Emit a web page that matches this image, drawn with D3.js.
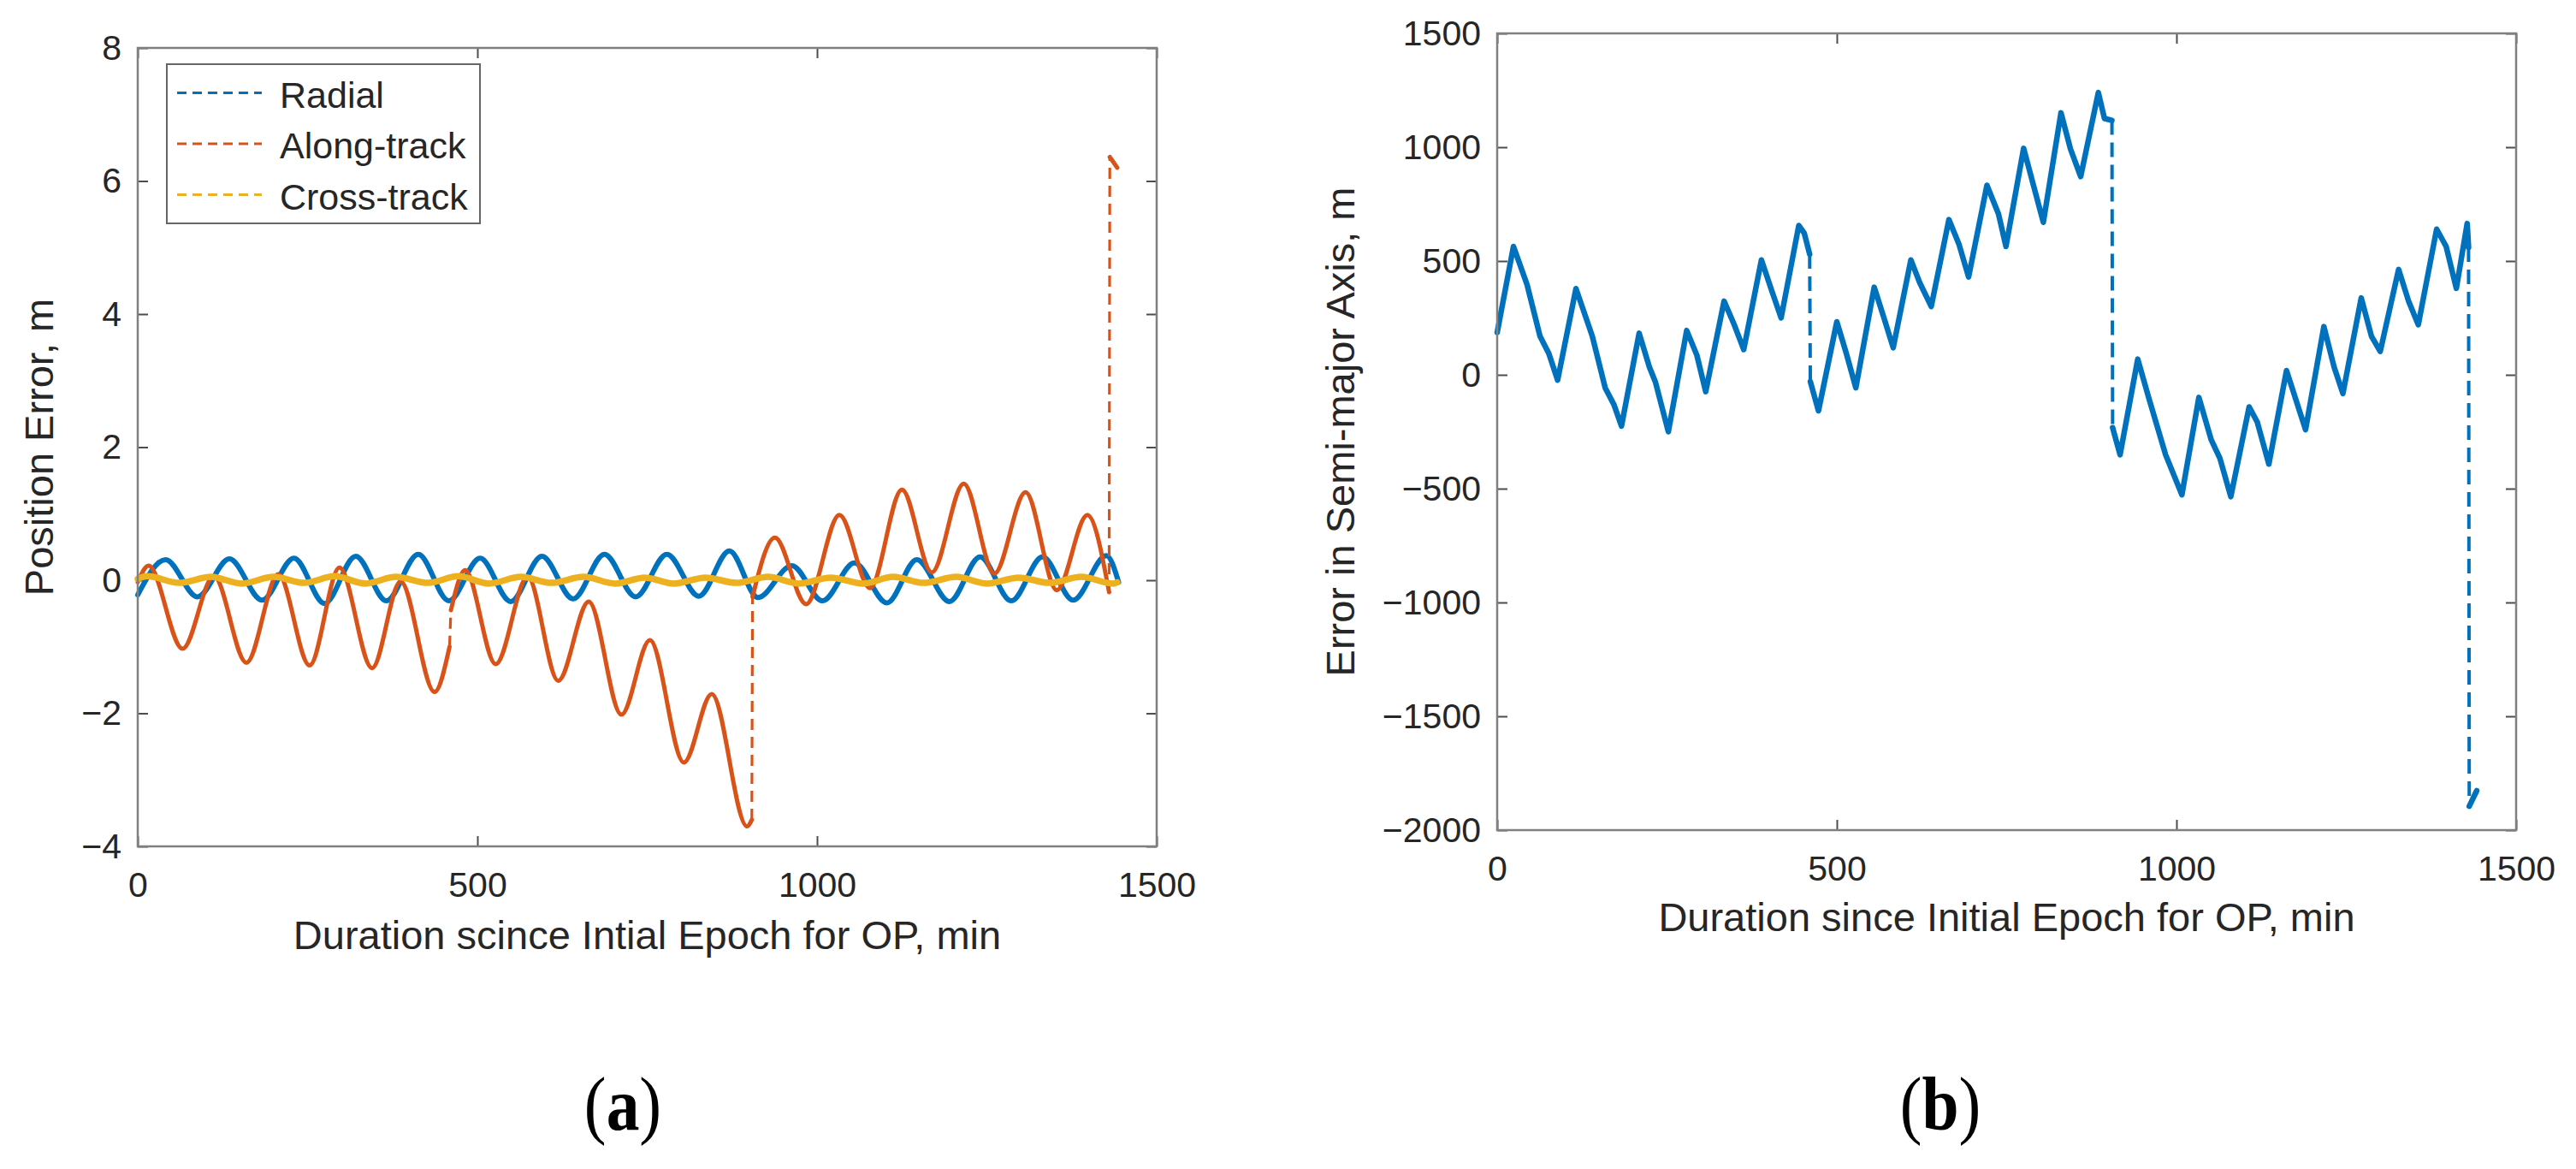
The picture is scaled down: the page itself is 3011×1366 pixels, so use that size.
<!DOCTYPE html>
<html>
<head>
<meta charset="utf-8">
<script src="https://cdn.jsdelivr.net/npm/d3@7"></script>
<style>
  body { margin: 0; background: #fff; }
  text { font-family: "Liberation Sans", Arial, sans-serif; fill: #262626; }
</style>
</head>
<body>
<div id="fig"></div>
<script>
  // ---- data ----
  const xTicks = [0, 500, 1000, 1500];
  const posTicks = [-4, -2, 0, 2, 4, 6, 8];
  const smaTicks = [-2000, -1500, -1000, -500, 0, 500, 1000, 1500];
  const seriesNames = ["Radial", "Along-track", "Cross-track"];
  const seriesColors = ["#0072BD", "#D95319", "#EDB120"];

  // (a) radial error, extrema [min, m]
  const radial = [[0,-0.22],[41,0.31],[88,-0.25],[135,0.32],[183,-0.30],[230,0.33],[275,-0.35],[321,0.36],
    [366,-0.31],[413,0.39],[458,-0.31],[504,0.33],[549,-0.32],[595,0.36],[641,-0.28],[687,0.39],[733,-0.25],
    [779,0.39],[826,-0.24],[871,0.44],[913,-0.26],[963,0.22],[1008,-0.31],[1055,0.26],[1103,-0.34],[1147,0.31],
    [1195,-0.32],[1240,0.35],[1286,-0.31],[1332,0.35],[1377,-0.30],[1426,0.37],[1444,-0.03]];

  // (a) along-track error, four arcs
  const along1 = [[0,-0.03],[16,0.22],[66,-1.03],[112,0.06],[160,-1.24],[207,0.09],[253,-1.28],[297,0.19],
    [345,-1.32],[387,-0.02],[437,-1.68],[459,-1.0]];
  const along2 = [[461,-0.45],[482,0.15],[527,-1.26],[574,0.05],[619,-1.51],[664,-0.32],[712,-2.02],[754,-0.90],
    [804,-2.74],[845,-1.71],[897,-3.70],[904,-3.60]];
  const along3 = [[905,-0.25],[938,0.64],[984,-0.36],[1033,0.98],[1078,-0.12],[1125,1.36],[1169,0.12],[1216,1.45],
    [1261,0.10],[1307,1.32],[1353,-0.15],[1398,0.98],[1430,-0.18]];
  const along4 = [[1431,6.36],[1442,6.20]];

  // (a) cross-track error
  const cross = [[0,0.02],[14,0.06],[61,-0.04],[108,0.05],[153,-0.05],[200,0.05],[245,-0.04],[290,0.06],
    [335,-0.05],[380,0.05],[427,-0.04],[472,0.06],[517,-0.05],[564,0.05],[609,-0.04],[656,0.05],[703,-0.05],
    [746,0.04],[789,-0.05],[836,0.04],[881,-0.04],[928,0.05],[973,-0.05],[1020,0.04],[1068,-0.05],[1112,0.05],
    [1157,-0.04],[1205,0.05],[1250,-0.05],[1297,0.04],[1342,-0.04],[1389,0.05],[1436,-0.05],[1442,-0.03]];

  // (b) error in semi-major axis, four arcs
  const sma1 = [[0,186],[24,564],[44,396],[63,170],[76,94],[89,-23],[116,379],[140,170],[159,-57],[172,-132],
    [183,-225],[209,183],[224,35],[233,-32],[252,-250],[279,195],[294,86],[307,-74],[334,324],[349,220],[363,111],
    [389,505],[404,371],[418,250],[444,656],[452,623],[460,530]];
  const sma2 = [[461,-30],[473,-158],[500,233],[514,94],[528,-57],[555,385],[569,254],[583,119],[609,505],
    [622,405],[639,300],[665,682],[680,572],[694,430],[721,833],[738,707],[749,564],[775,995],[804,670],
    [830,1151],[844,992],[859,871],[885,1240],[894,1126],[905,1118]];
  const sma3 = [[906,-232],[917,-351],[943,69],[959,-99],[984,-351],[1008,-527],[1033,-99],[1051,-284],
    [1064,-367],[1080,-535],[1107,-141],[1119,-208],[1136,-392],[1162,19],[1190,-241],[1217,212],[1232,35],
    [1245,-82],[1272,338],[1287,170],[1300,103],[1327,463],[1342,321],[1356,220],[1383,640],[1397,564],
    [1412,380],[1428,665],[1430,560]];
  const sma4 = [[1431,-1895],[1442,-1827]];

  const svg = d3.select("#fig").append("svg")
    .attr("width", 3011)
    .attr("height", 1366);

  const fmt = d => d < 0 ? "\u2212" + Math.abs(d) : String(d);

  function makePanel(left, right, top, bottom, yDomain, yTicks) {
    const x = d3.scaleLinear().domain([0, 1500]).range([left, right]);
    const y = d3.scaleLinear().domain(yDomain).range([bottom, top]);

    const axes = [
      [d3.axisBottom(x).tickValues(xTicks).tickPadding(30).tickFormat(fmt), `translate(0,${bottom})`],
      [d3.axisTop(x).tickValues(xTicks).tickFormat(""), `translate(0,${top})`],
      [d3.axisLeft(y).tickValues(yTicks).tickPadding(19).tickFormat(fmt), `translate(${left},0)`],
      [d3.axisRight(y).tickValues(yTicks).tickFormat(""), `translate(${right},0)`]
    ];
    axes.forEach(([ax, tr]) => {
      const g = svg.append("g").attr("transform", tr)
        .call(ax.tickSizeInner(-12).tickSizeOuter(0));
      g.attr("font-size", 41).attr("font-family", null);
      g.select(".domain").remove();
      g.selectAll("line").attr("stroke", "#4d4d4d").attr("stroke-width", 2);
      g.selectAll("text").attr("fill", "#262626");
    });
    return { x, y };
  }

  function drawBox(left, right, top, bottom) {
    svg.append("rect")
      .attr("x", left).attr("y", top)
      .attr("width", right - left).attr("height", bottom - top)
      .attr("fill", "none")
      .attr("stroke", "#808080")
      .attr("stroke-width", 2.5);
  }

  function drawCurve(pts, x, y, color, width, curve) {
    const lineGen = d3.line().x(d => x(d[0])).y(d => y(d[1])).curve(curve);
    svg.append("path")
      .attr("d", lineGen(pts))
      .attr("fill", "none")
      .attr("stroke", color)
      .attr("stroke-width", width)
      .attr("stroke-linejoin", "round")
      .attr("stroke-linecap", "round");
  }

  function drawJump(a, b, x, y, color, width, dash) {
    svg.append("path")
      .attr("d", d3.line()([[x(a[0]), y(a[1])], [x(b[0]), y(b[1])]]))
      .attr("fill", "none")
      .attr("stroke", color)
      .attr("stroke-width", width)
      .attr("stroke-dasharray", dash);
  }

  // ---------- panel (a) ----------
  const A = { l: 161, r: 1352, t: 56, b: 989 };
  const pa = makePanel(A.l, A.r, A.t, A.b, [-4, 8], posTicks);

  drawCurve(radial, pa.x, pa.y, seriesColors[0], 6, d3.curveMonotoneX);
  const alongArcs = [along1, along2, along3, along4];
  alongArcs.forEach((arc, i) => {
    drawCurve(arc, pa.x, pa.y, seriesColors[1], 5, d3.curveMonotoneX);
    if (i > 0) {
      const prev = alongArcs[i - 1];
      drawJump(prev[prev.length - 1], arc[0], pa.x, pa.y, seriesColors[1], 3.2, "13,8");
    }
  });
  drawCurve(cross, pa.x, pa.y, seriesColors[2], 7.5, d3.curveMonotoneX);
  drawBox(A.l, A.r, A.t, A.b);

  // legend
  svg.append("rect")
    .attr("x", 195).attr("y", 75).attr("width", 366).attr("height", 186)
    .attr("fill", "#fff").attr("stroke", "#666").attr("stroke-width", 2);
  seriesNames.forEach((name, i) => {
    const ly = 108.5 + i * 59.5;
    svg.append("line")
      .attr("x1", 207).attr("x2", 306).attr("y1", ly).attr("y2", ly)
      .attr("stroke", seriesColors[i]).attr("stroke-width", 3)
      .attr("stroke-dasharray", "11,7");
    svg.append("text")
      .attr("x", 327).attr("y", ly + 17)
      .attr("font-size", 43)
      .text(name);
  });

  svg.append("text")
    .attr("x", (A.l + A.r) / 2).attr("y", A.b + 120)
    .attr("text-anchor", "middle").attr("font-size", 47)
    .text("Duration scince Intial Epoch for OP, min");
  svg.append("text")
    .attr("transform", `translate(62,${(A.t + A.b) / 2}) rotate(-90)`)
    .attr("text-anchor", "middle").attr("font-size", 47)
    .text("Position Error, m");

  // ---------- panel (b) ----------
  const B = { l: 1750, r: 2941, t: 39, b: 970 };
  const pb = makePanel(B.l, B.r, B.t, B.b, [-2000, 1500], smaTicks);
  const smaArcs = [sma1, sma2, sma3, sma4];
  smaArcs.forEach((arc, i) => {
    drawCurve(arc, pb.x, pb.y, seriesColors[0], 6.5, d3.curveLinear);
    if (i > 0) {
      const prev = smaArcs[i - 1];
      drawJump(prev[prev.length - 1], arc[0], pb.x, pb.y, seriesColors[0], 4, "17,9");
    }
  });
  drawBox(B.l, B.r, B.t, B.b);

  svg.append("text")
    .attr("x", (B.l + B.r) / 2).attr("y", B.b + 118)
    .attr("text-anchor", "middle").attr("font-size", 47)
    .text("Duration since Initial Epoch for OP, min");
  svg.append("text")
    .attr("transform", `translate(1583,${(B.t + B.b) / 2}) rotate(-90)`)
    .attr("text-anchor", "middle").attr("font-size", 47)
    .text("Error in Semi-major Axis, m");

  // sub-figure captions
  [["a", 728], ["b", 2268]].forEach(([letter, cx]) => {
    const t = svg.append("text")
      .attr("transform", `translate(${cx},1320) scale(0.88,1)`)
      .attr("text-anchor", "middle")
      .attr("font-size", 88)
      .style("font-family", "'Liberation Serif', 'Times New Roman', serif")
      .style("fill", "#000");
    t.append("tspan").text("(");
    t.append("tspan").attr("font-weight", "bold").text(letter);
    t.append("tspan").text(")");
  });
</script>
</body>
</html>
